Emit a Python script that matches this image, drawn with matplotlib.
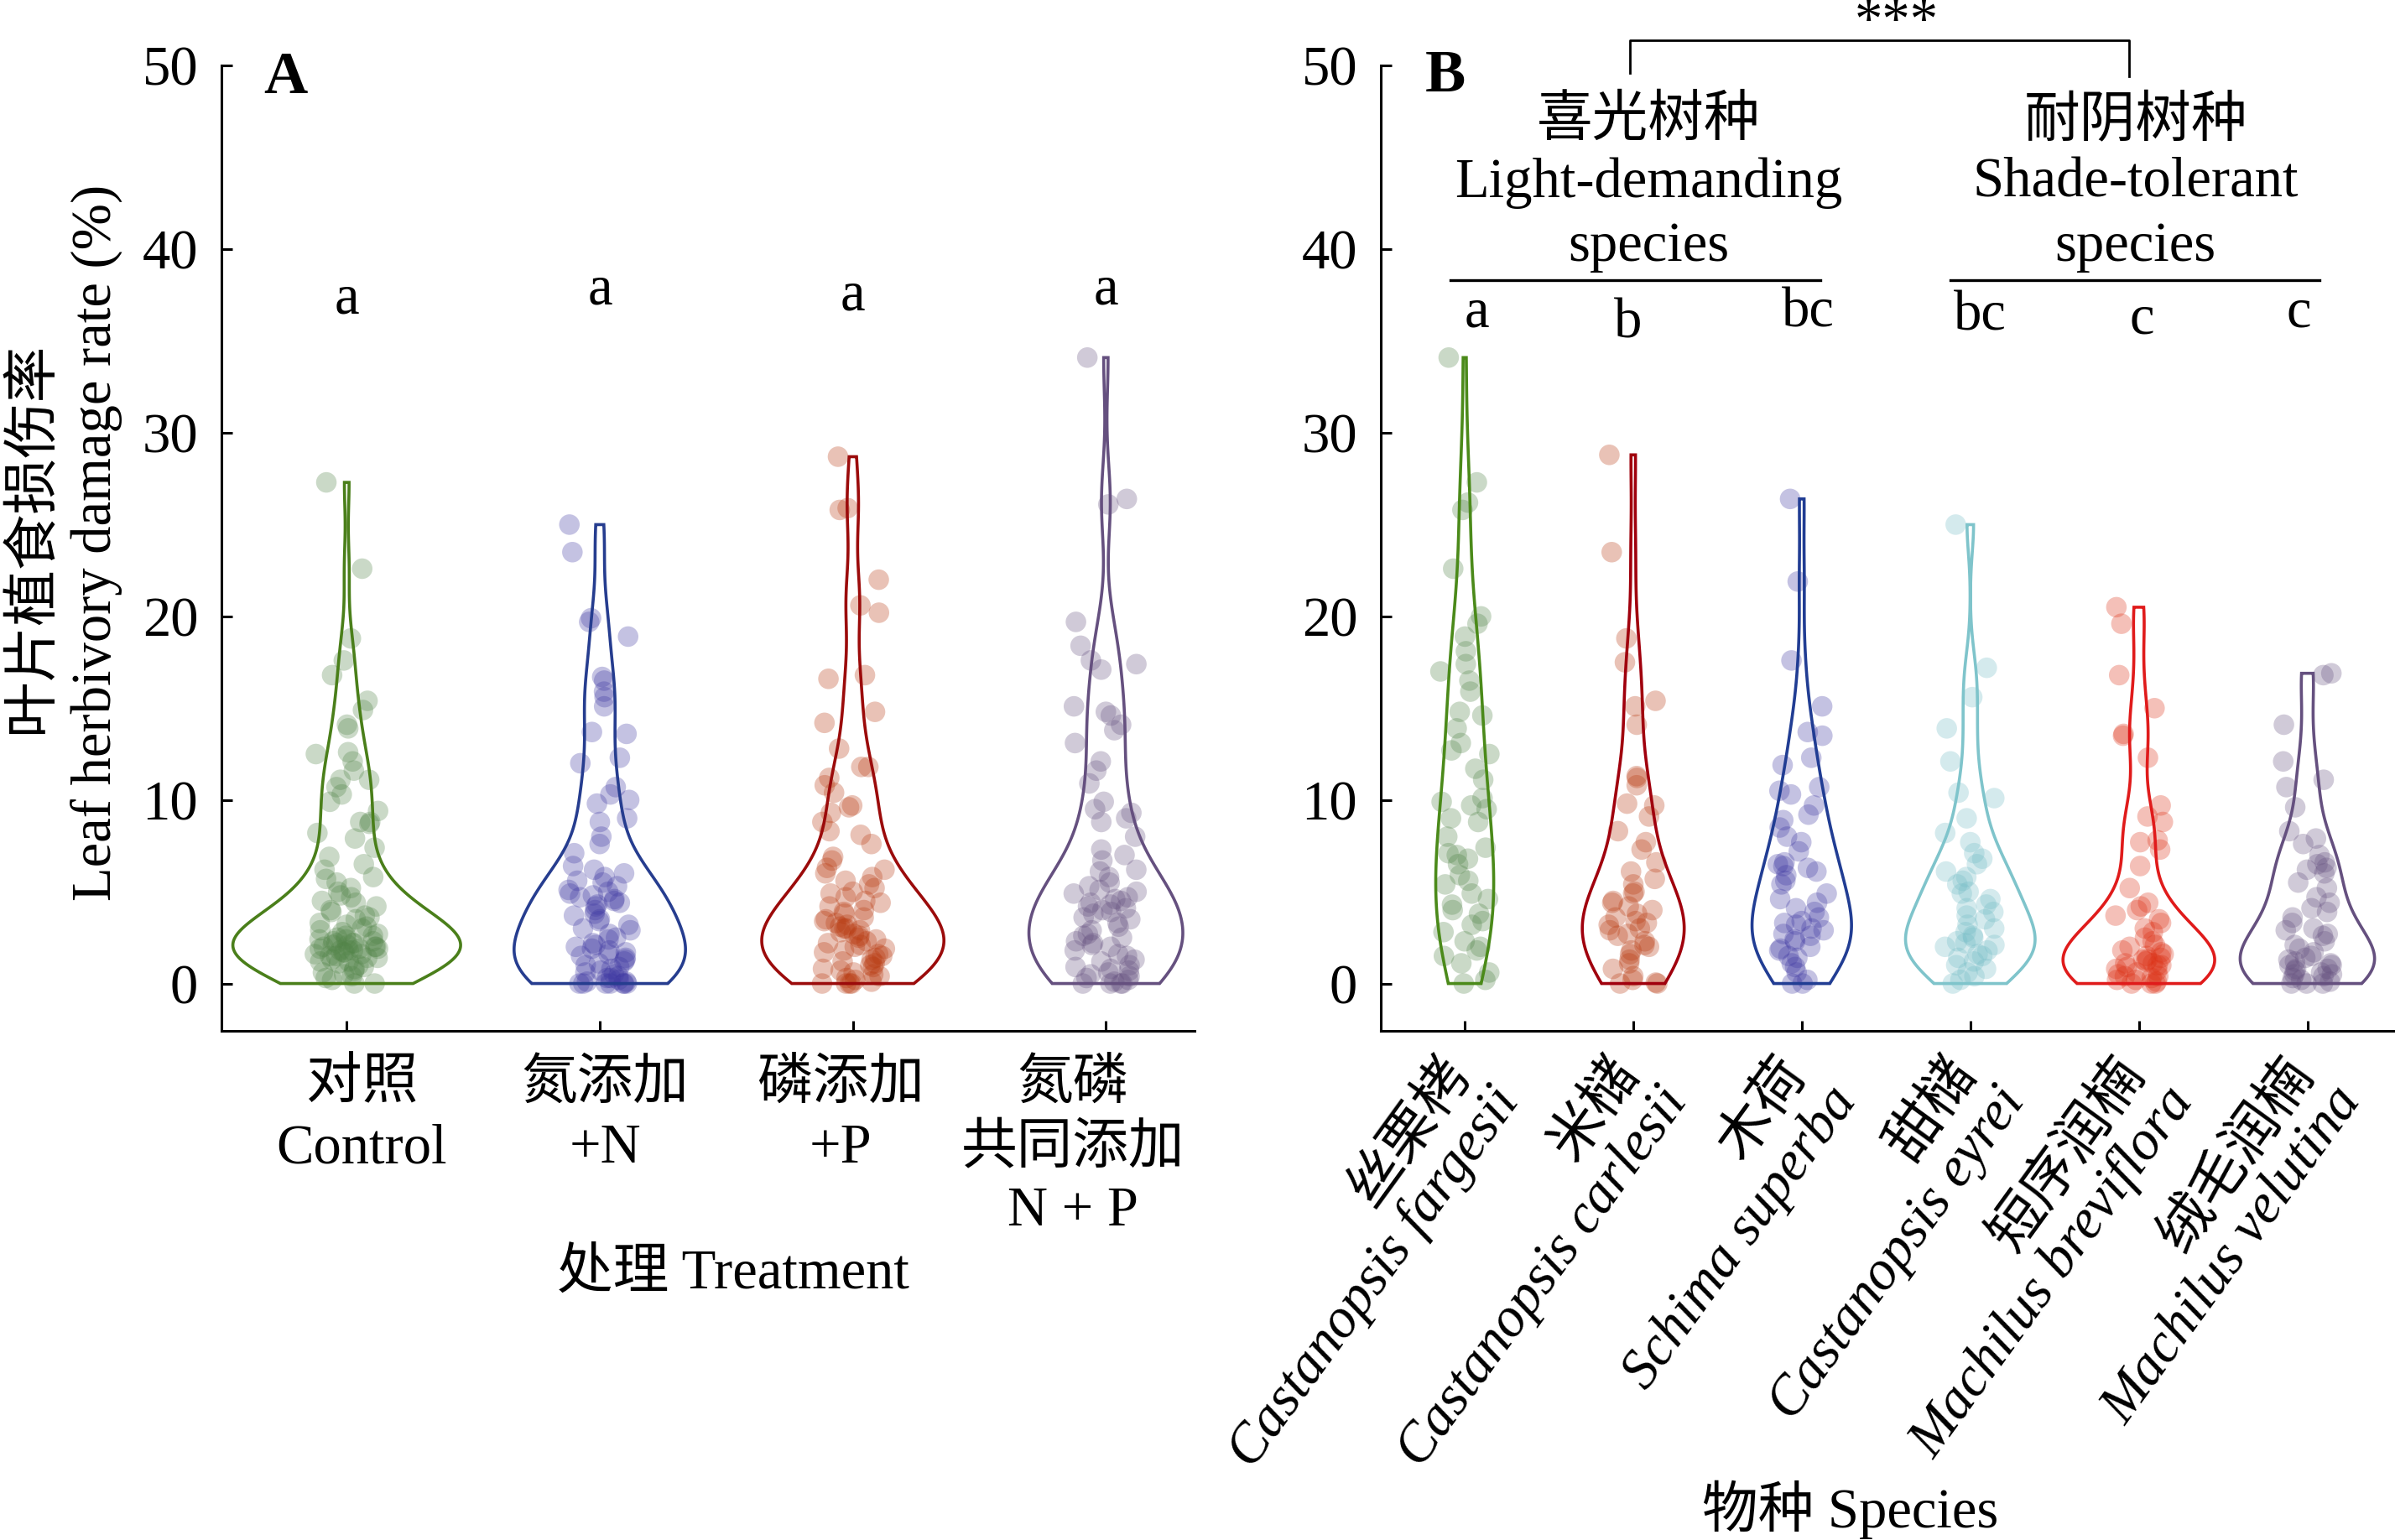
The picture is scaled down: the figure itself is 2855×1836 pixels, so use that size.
import numpy as np
import matplotlib
matplotlib.use('Agg')
import matplotlib.pyplot as plt
import matplotlib.transforms as mtransforms
from matplotlib.lines import Line2D

plt.rcParams['font.family'] = ['Liberation Serif', 'Noto Sans CJK SC']

# ------------------ ДАННЫЕ: панель A (обработка) ------------------
treat_zh = ['对照', '氮添加', '磷添加', '氮磷\n共同添加']
treat_en = ['Control', '+N', '+P', 'N + P']
treat_letters = ['a', 'a', 'a', 'a']

ctrl = [27.3, 22.6, 18.8, 17.6, 16.8, 15.4, 14.9, 14.1, 13.9, 12.6, 12.5, 12.1,
        11.6, 11.1, 11.1, 10.7, 10.3, 9.9, 9.4, 8.8, 8.8, 8.7, 8.2, 7.9, 7.4,
        6.9, 6.5, 6.2, 5.8, 5.7, 5.5, 5.2, 5.0, 4.8, 4.7, 4.5, 4.4, 4.2, 4.0,
        3.9, 3.7, 3.6, 3.5, 3.3, 3.2, 3.1, 3.0, 2.9, 2.8, 2.7, 2.6, 2.6, 2.5,
        2.4, 2.4, 2.3, 2.3, 2.2, 2.2, 2.2, 2.1, 2.1, 2.0, 2.0, 2.0, 1.9, 1.9,
        1.9, 1.8, 1.8, 1.8, 1.7, 1.7, 1.6, 1.6, 1.5, 1.5, 1.4, 1.4, 1.3, 1.2,
        1.2, 1.1, 1.0, 0.9, 0.8, 0.7, 0.6, 0.5, 0.4, 0.3, 0.2, 0.0, 0.0]
add_n = [25.0, 23.5, 19.9, 19.7, 18.9, 16.7, 16.5, 15.9, 15.6, 15.1, 13.7, 13.6,
         12.3, 12.0, 10.7, 10.3, 10.0, 9.8, 9.0, 8.8, 8.0, 7.6, 7.1, 6.4, 6.2,
         6.0, 5.8, 5.6, 5.5, 5.3, 5.1, 5.0, 4.9, 4.8, 4.7, 4.6, 4.5, 4.4, 4.3,
         4.2, 4.0, 3.8, 3.7, 3.5, 3.4, 3.2, 3.0, 2.9, 2.7, 2.5, 2.4, 2.2, 2.1,
         2.0, 1.9, 1.8, 1.7, 1.6, 1.5, 1.4, 1.3, 1.2, 1.1, 1.0, 0.9, 0.8, 0.7,
         0.6, 0.5, 0.4, 0.3, 0.3, 0.2, 0.1, 0.1, 0.0, 0.0, 0.0, 0.0, 0.0, 0.0, 0.0]
add_p = [28.7, 25.9, 25.8, 22.0, 20.6, 20.2, 16.8, 16.6, 14.8, 14.2, 12.8, 11.8,
         11.8, 11.2, 10.8, 10.4, 9.7, 9.6, 9.3, 8.8, 8.3, 8.1, 7.6, 6.9, 6.7,
         6.3, 6.2, 6.0, 5.8, 5.6, 5.4, 5.2, 5.0, 4.9, 4.7, 4.5, 4.4, 4.2, 4.0,
         3.9, 3.8, 3.6, 3.5, 3.4, 3.3, 3.2, 3.1, 3.0, 3.0, 2.9, 2.8, 2.7, 2.6,
         2.5, 2.4, 2.3, 2.2, 2.1, 2.0, 1.9, 1.8, 1.7, 1.6, 1.5, 1.4, 1.3, 1.2,
         1.1, 1.0, 0.9, 0.8, 0.7, 0.6, 0.5, 0.4, 0.3, 0.2, 0.1, 0.0, 0.0, 0.0, 0.0]
add_np = [34.1, 26.4, 26.1, 19.7, 18.4, 17.6, 17.4, 17.1, 15.1, 14.8, 14.6, 14.1,
          13.8, 13.1, 12.1, 11.6, 10.9, 9.9, 9.5, 9.3, 9.0, 8.8, 8.0, 7.3, 7.0,
          6.7, 6.2, 6.1, 5.8, 5.5, 5.3, 5.1, 5.0, 4.9, 4.7, 4.6, 4.5, 4.4, 4.3,
          4.2, 4.1, 4.0, 3.9, 3.8, 3.6, 3.5, 3.3, 3.1, 2.9, 2.7, 2.6, 2.5, 2.3,
          2.2, 2.1, 2.0, 1.8, 1.6, 1.5, 1.3, 1.2, 1.0, 0.9, 0.8, 0.7, 0.6, 0.5,
          0.4, 0.3, 0.2, 0.1, 0.0, 0.0, 0.0, 0.0]

# ------------------ ДАННЫЕ: панель B (виды) ------------------
sp_zh = ['丝栗栲', '米槠', '木荷', '甜槠', '短序润楠', '绒毛润楠']
sp_la = ['Castanopsis fargesii', 'Castanopsis carlesii', 'Schima superba',
         'Castanopsis eyrei', 'Machilus breviflora', 'Machilus velutina']
sp_letters = ['a', 'b', 'bc', 'bc', 'c', 'c']

fargesii = [34.1, 27.3, 26.2, 25.8, 22.6, 20.0, 19.6, 18.9, 18.1, 17.4, 17.0, 16.5,
            15.9, 14.8, 14.6, 13.9, 13.1, 12.7, 12.5, 11.7, 11.1, 10.1, 9.9, 9.7,
            9.5, 9.0, 8.8, 8.0, 7.4, 7.1, 7.0, 6.8, 6.5, 5.9, 5.6, 5.4, 4.9, 4.6,
            4.3, 4.0, 3.8, 3.4, 3.2, 2.8, 2.3, 2.0, 1.8, 1.5, 1.1, 0.6, 0.2, 0.0]
carlesii = [28.8, 23.5, 18.8, 17.5, 15.4, 15.1, 14.1, 11.3, 11.2, 10.8, 9.8, 9.7,
            9.1, 8.3, 7.7, 7.3, 6.6, 6.1, 5.7, 5.4, 5.0, 4.9, 4.5, 4.4, 4.2, 4.0,
            3.8, 3.6, 3.4, 3.3, 3.2, 3.0, 2.9, 2.7, 2.6, 2.3, 2.1, 2.0, 1.8, 1.6,
            1.3, 1.1, 0.8, 0.4, 0.2, 0.05, 0.0, 0.0]
superba = [26.4, 21.9, 17.6, 15.1, 13.7, 13.5, 12.3, 11.9, 10.7, 10.5, 10.3, 9.7,
           9.2, 8.9, 8.5, 8.0, 7.7, 7.2, 6.6, 6.5, 6.4, 6.3, 6.1, 5.9, 5.6, 5.4,
           4.9, 4.6, 4.4, 4.1, 3.9, 3.6, 3.4, 3.3, 3.2, 3.0, 2.9, 2.7, 2.6, 2.4,
           2.3, 2.0, 1.9, 1.8, 1.5, 1.4, 1.1, 0.9, 0.6, 0.2, 0.0, 0.0]
eyrei = [25.0, 17.2, 15.6, 13.9, 12.1, 10.4, 10.1, 9.0, 8.2, 7.7, 7.1, 6.8, 6.5,
         6.1, 5.8, 5.6, 5.4, 5.0, 4.9, 4.6, 4.3, 4.1, 3.9, 3.7, 3.5, 3.2, 3.0,
         2.8, 2.6, 2.5, 2.3, 2.2, 2.1, 2.0, 1.8, 1.6, 1.5, 1.4, 1.2, 1.0, 0.8,
         0.6, 0.4, 0.2, 0.0]
breviflora = [20.5, 19.6, 16.8, 15.0, 13.6, 13.5, 12.3, 9.7, 9.1, 8.8, 7.8, 7.7,
              7.3, 6.4, 5.2, 4.4, 4.2, 4.0, 3.7, 3.5, 3.3, 3.0, 2.8, 2.5, 2.3,
              2.1, 2.0, 1.8, 1.7, 1.6, 1.5, 1.4, 1.3, 1.3, 1.2, 1.1, 1.1, 1.0,
              1.0, 0.9, 0.8, 0.7, 0.6, 0.5, 0.4, 0.4, 0.3, 0.2, 0.2, 0.1, 0.0,
              0.0, 0.0]
velutina = [16.9, 16.8, 14.1, 12.1, 11.1, 10.7, 9.6, 8.3, 7.9, 7.6, 7.0, 6.6,
            6.5, 6.3, 6.2, 6.0, 5.5, 5.2, 4.7, 4.4, 4.1, 3.9, 3.6, 3.3, 3.0, 2.9,
            2.7, 2.6, 2.3, 2.1, 1.9, 1.7, 1.5, 1.4, 1.3, 1.2, 1.1, 1.0, 1.0, 0.8,
            0.8, 0.7, 0.6, 0.5, 0.5, 0.4, 0.3, 0.2, 0.1, 0.0, 0.0, 0.0]

# ------------------ ЦВЕТА ------------------
lines_a = ['#4a7f1a', '#263d8f', '#9b0b0b', '#65507f']
pts_a = ['#528448', '#3e37a2', '#b8380e', '#65507f']
lines_b = ['#4b8a1a', '#a0000d', '#213d93', '#7fc4cb', '#e01b1b', '#65507f']
pts_b = ['#528448', '#b8380e', '#3e37a2', '#73bcc6', '#dd3015', '#65507f']


def nrd0(v):
    q75, q25 = np.percentile(v, [75, 25])
    lo = min(v.std(ddof=1), (q75 - q25) / 1.34)
    return 0.9 * lo * len(v) ** -0.2


def kde(v, grid, bw):
    z = (grid[:, None] - v[None, :]) / bw
    return np.exp(-0.5 * z ** 2).sum(1) / (len(v) * bw * np.sqrt(2 * np.pi))


def draw_violins(ax, groups, lcols, pcols, jw):
    grids, dens = [], []
    for g in groups:
        v = np.asarray(g, float)
        grid = np.linspace(v.min(), v.max(), 512)
        grids.append(grid)
        dens.append(kde(v, grid, nrd0(v)))
    dmax = max(d.max() for d in dens)
    for i, g in enumerate(groups):
        pos = i + 1
        v = np.asarray(g, float)
        k = np.arange(len(v))
        # детерминированный разброс точек по x
        h = np.sin(k * 12.9898 + pos * 78.233) * 43758.5453
        off = ((h - np.floor(h)) * 2 - 1) * jw
        ax.scatter(pos + off, v, s=78, color=pcols[i], alpha=0.3,
                   edgecolors='none', zorder=2, clip_on=False)
        half = 0.45 * dens[i] / dmax
        xs = np.concatenate([pos - half, (pos + half)[::-1]])
        ys = np.concatenate([grids[i], grids[i][::-1]])
        ax.fill(xs, ys, facecolor='none', edgecolor=lcols[i], lw=1.3, zorder=3)


W, H = 1568, 1008


def fy(py):
    return 1 - py / H


fig = plt.figure(figsize=(14.275, 9.18), dpi=200)
axA = fig.add_axes([145 / W, 1 - 675 / H, 637 / W, 632 / H])
axB = fig.add_axes([904 / W, 1 - 675 / H, 664 / W, 632 / H])

for ax in (axA, axB):
    for s in ('top', 'right'):
        ax.spines[s].set_visible(False)
    for s in ('left', 'bottom'):
        ax.spines[s].set_linewidth(1.1)
    ax.set_ylim(-2.6, 50)
    ax.set_yticks([0, 10, 20, 30, 40, 50])
    ax.tick_params(direction='in', length=4.5, width=1.1, labelsize=24, pad=10)
    ax.tick_params(axis='x', labelbottom=False)

# ------------------ ПАНЕЛЬ A ------------------
draw_violins(axA, [ctrl, add_n, add_p, add_np], lines_a, pts_a, 0.127)
axA.set_xlim(0.505, 4.35)
axA.set_xticks([1, 2, 3, 4])
tA = mtransforms.blended_transform_factory(axA.transData, fig.transFigure)
label_x = [1.06, 2.02, 2.95, 3.87]
for x, zh, en in zip(label_x, treat_zh, treat_en):
    rows = zh.split('\n') + [en]
    for j, t in enumerate(rows):
        axA.text(x, fy([719, 761, 802][j]), t, transform=tA,
                 ha='center', va='baseline', fontsize=24)
axA.text(2.527, fy(843), '处理 Treatment', transform=tA,
         ha='center', va='baseline', fontsize=24)
for i, (lt, yb) in enumerate(zip(treat_letters, [36.5, 37.0, 36.7, 37.0])):
    axA.text(i + 1, yb, lt, ha='center', va='baseline', fontsize=24)
fig.text(187 / W, fy(61), 'A', ha='center', va='baseline',
         fontsize=26, fontweight='bold')

# подпись оси y (две строки)
fig.text(72 / W, fy(355), 'Leaf herbivory damage rate (%)', rotation=90,
         rotation_mode='anchor', ha='center', va='baseline', fontsize=24)
fig.text(31 / W, fy(352), '叶片植食损伤率', rotation=90,
         rotation_mode='anchor', ha='center', va='baseline', fontsize=24)

# ------------------ ПАНЕЛЬ B ------------------
draw_violins(axB, [fargesii, carlesii, superba, eyrei, breviflora, velutina],
             lines_b, pts_b, 0.15)
axB.set_xlim(0.502, 6.52)
axB.set_xticks([1, 2, 3, 4, 5, 6])
for i, (zh, la) in enumerate(zip(sp_zh, sp_la)):
    axB.annotate(zh, xy=(i + 1, 0), xycoords=('data', 'axes fraction'),
                 xytext=(-11, -8), textcoords='offset points', rotation=54,
                 rotation_mode='anchor', ha='right', va='top', fontsize=24)
    axB.annotate(la, xy=(i + 1, 0), xycoords=('data', 'axes fraction'),
                 xytext=(10, -20), textcoords='offset points', rotation=54,
                 rotation_mode='anchor', ha='right', va='top', fontsize=24,
                 fontstyle='italic')
tB = mtransforms.blended_transform_factory(axB.transData, fig.transFigure)
axB.text(3.29, fy(1000), '物种 Species', transform=tB,
         ha='center', va='baseline', fontsize=24)
for x, lt, yb in zip([1.07, 1.97, 3.04, 4.06, 5.02, 5.95], sp_letters,
                     [35.8, 35.2, 35.8, 35.6, 35.4, 35.8]):
    axB.text(x, yb, lt, ha='center', va='baseline', fontsize=24)
fig.text(946 / W, fy(60), 'B', ha='center', va='baseline',
         fontsize=26, fontweight='bold')

# групповые подписи
for xc, rows in [(2.09, ['喜光树种', 'Light-demanding', 'species']),
                 (4.98, ['耐阴树种', 'Shade-tolerant', 'species'])]:
    for j, t in enumerate(rows):
        axB.text(xc, fy([89, 129, 171][j]), t, transform=tB,
                 ha='center', va='baseline', fontsize=24)
for x0, x1 in [(0.915, 3.11), (3.88, 6.07)]:
    fig.add_artist(Line2D([x0, x1], [fy(183.6), fy(183.6)], transform=tB,
                          color='black', lw=1.2))
fig.add_artist(Line2D([1.98, 1.98, 4.94, 4.94],
                      [fy(48), fy(26.5), fy(26.5), fy(50)], transform=tB,
                      color='black', lw=1.0))
axB.text(3.56, fy(24), '***', transform=tB, ha='center', va='baseline',
         fontsize=24)

fig.savefig('out.png', dpi=200)
